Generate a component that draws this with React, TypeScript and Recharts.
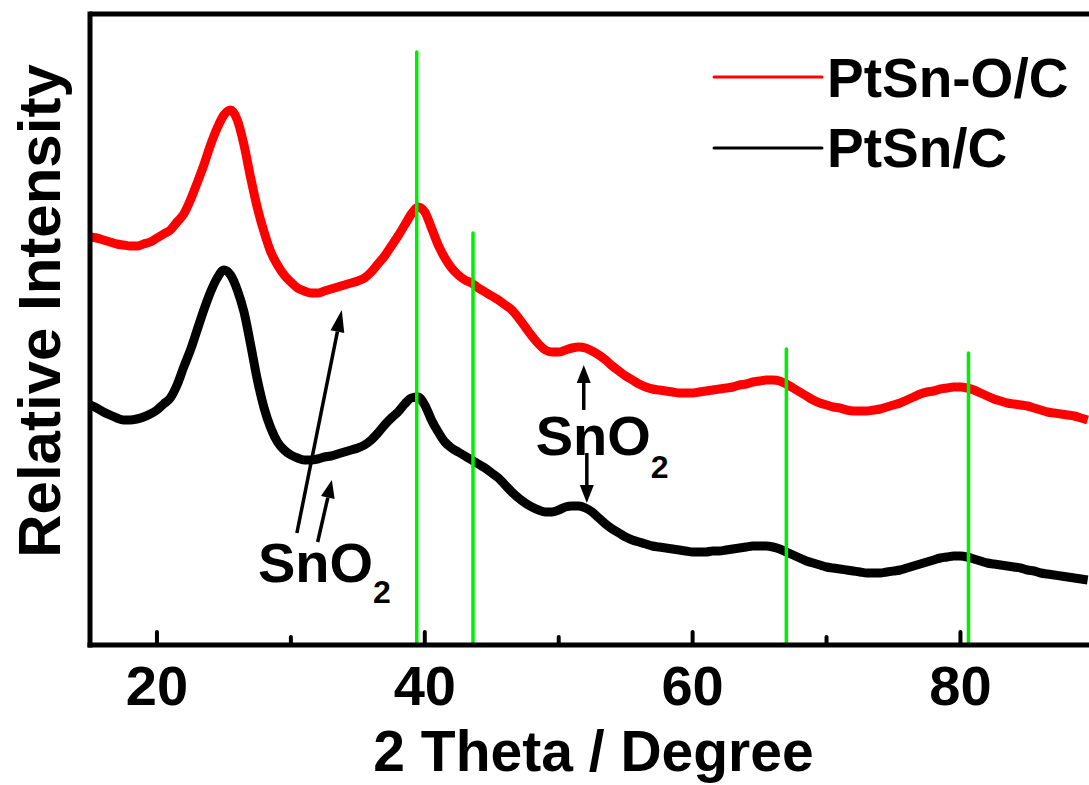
import React from 'react';
import { LineChart, Line, XAxis, YAxis, ReferenceLine, ReferenceDot, Legend } from 'recharts';

// 2 theta grid: 15 .. 89.5 deg, every 0.5 deg
const angleStart = 15;
const angleStep = 0.5;

// PtSn-O/C (red), relative intensity (a.u.)
const ptSnOC = [
  408, 407, 405, 403, 401, 400, 399, 399, 401, 403,
  407, 411, 415, 423, 431, 445, 462, 480, 500, 517,
  530, 535, 525, 500, 467, 437, 413, 393, 380, 370,
  363, 357, 354, 352, 352, 354, 356, 358, 360, 362,
  364, 367, 373, 381, 389, 399, 409, 420, 431, 438,
  433, 417, 400, 387, 377, 370, 365, 362, 357, 353,
  349, 345, 340, 335, 327, 318, 309, 301, 295, 293,
  293, 295, 297, 298, 297, 294, 290, 285, 279, 274,
  269, 265, 261, 258, 256, 255, 254, 253, 252, 252,
  252, 253, 254, 255, 256, 257, 258, 260, 261, 263,
  264, 265, 265, 264, 261, 257, 253, 249, 245, 242,
  240, 238, 237, 235, 234, 234, 234, 235, 236, 238,
  240, 242, 245, 248, 251, 253, 254, 256, 257, 258,
  258, 257, 255, 252, 249, 246, 244, 242, 241, 240,
  239, 237, 235, 233, 232, 231, 230, 229, 227, 225,
];

// PtSn/C (black)
const ptSnC = [
  240, 237, 233, 230, 227, 225, 225, 226, 228, 231,
  235, 241, 247, 260, 278, 295, 315, 335, 353, 367,
  375, 370, 355, 333, 300, 265, 237, 217, 203, 195,
  190, 187, 185, 185, 186, 188, 189, 191, 193, 195,
  197, 200, 205, 212, 220, 227, 233, 241, 247, 248,
  240, 225, 213, 203, 197, 193, 189, 185, 181, 177,
  172, 167, 160, 153, 147, 142, 138, 135, 133, 133,
  135, 138, 139, 139, 137, 133, 127, 121, 116, 112,
  108, 105, 103, 101, 99, 98, 97, 96, 95, 94,
  93, 93, 93, 94, 94, 95, 96, 97, 98, 99,
  99, 99, 98, 96, 93, 90, 87, 84, 82, 80,
  78, 77, 76, 75, 74, 73, 72, 72, 72, 73,
  74, 75, 77, 79, 81, 83, 85, 87, 88, 89,
  89, 88, 86, 84, 82, 81, 80, 79, 78, 77,
  75, 74, 72, 71, 70, 69, 68, 67, 66, 65,
];

const seriesNames = ['PtSn-O/C', 'PtSn/C'];
const seriesColors = ['#ff0000', '#000000'];

// reference (Pt) peak positions and the heights of the green markers
const refPeaks = [39.4, 43.6, 67.0, 80.6];
const refPeakTops = [593, 412, 296, 292];

const xTicks = [20, 30, 40, 50, 60, 70, 80];
const xTickLabels = [20, 40, 60, 80];

// SnO2 annotations: arrows (tail -> tip) and label anchors
const snO2Arrows = [
  { from: [30.45, 112], to: [33.8, 335] },
  { from: [32.0, 103], to: [33.06, 165] },
  { from: [51.87, 235], to: [51.87, 280] },
  { from: [52.1, 192], to: [52.1, 142] },
];
const snO2Labels = [
  { x: 27.54, y: 63, sub: 21 },
  { x: 48.28, y: 190, sub: 23 },
];

const data = ptSnOC.map((v, i) => ({
  angle: angleStart + i * angleStep,
  oc: v,
  c: ptSnC[i],
}));

const FONT = "'Liberation Sans', Arial, Helvetica, sans-serif";

const XTick = (props: any) => {
  const { x, y, payload } = props;
  const major = xTickLabels.includes(payload.value);
  return (
    <g>
      <line x1={x} x2={x} y1={y - 2} y2={y - (major ? 13 : 8)} stroke="#000" strokeWidth={4} strokeLinecap="round" />
      {major && (
        <text x={x} y={y + 60} textAnchor="middle" fontFamily={FONT} fontWeight="bold" fontSize={56} fill="#000">
          {payload.value}
        </text>
      )}
    </g>
  );
};

const XLabel = (props: any) => {
  const vb = props.viewBox;
  return (
    <text x={vb.x + vb.width / 2 + 4} y={vb.y + 126} textAnchor="middle" fontFamily={FONT} fontWeight="bold" fontSize={57} fill="#000">
      2 Theta / Degree
    </text>
  );
};

const YLabel = (props: any) => {
  const vb = props.viewBox;
  const cx = vb.x + 60;
  const cy = vb.y + 297;
  return (
    <text x={cx} y={cy} transform={`rotate(-90 ${cx} ${cy})`} textAnchor="middle" fontFamily={FONT} fontWeight="bold" fontSize={60} fill="#000">
      Relative Intensity
    </text>
  );
};

const ArrowShape = (props: any) => {
  const { x1, y1, x2, y2 } = props;
  const dx = x2 - x1;
  const dy = y2 - y1;
  const len = Math.hypot(dx, dy) || 1;
  const ux = dx / len;
  const uy = dy / len;
  const head = len > 100 ? 22 : 18;
  const half = 7;
  const bx = x2 - ux * head;
  const by = y2 - uy * head;
  const pts = `${x2},${y2} ${bx - uy * half},${by + ux * half} ${bx + uy * half},${by - ux * half}`;
  return (
    <g>
      <line x1={x1} y1={y1} x2={bx} y2={by} stroke="#000" strokeWidth={3.5} />
      <polygon points={pts} fill="#000" />
    </g>
  );
};

const snO2Shape = (sub: number) => (props: any) => (
  <text x={props.cx} y={props.cy} fontFamily={FONT} fontWeight="bold" fontSize={56} fill="#000">
    SnO
    <tspan dy={sub} fontSize={32}>2</tspan>
  </text>
);

const LegendBox = () => (
  <svg width={389} height={150}>
    {seriesNames.map((name, i) => (
      <g key={name}>
        <line x1={14} x2={122} y1={37 + i * 71} y2={37 + i * 71} stroke={seriesColors[i]} strokeWidth={3} strokeLinecap="round" />
        <text x={127} y={57 + i * 70} fontFamily={FONT} fontWeight="bold" fontSize={55} fill="#000">
          {name}
        </text>
      </g>
    ))}
  </svg>
);

export default function App() {
  return (
    <div style={{ position: 'absolute', left: 0, top: 0, width: 1089, height: 785, background: '#fff' }}>
      <LineChart width={1089} height={785} data={data} margin={{ top: 14, right: 0, left: 0, bottom: 0 }}>
        <XAxis
          dataKey="angle"
          type="number"
          domain={[15, 89.6]}
          ticks={xTicks}
          height={140}
          tickSize={0}
          tickMargin={0}
          tickLine={false}
          tick={<XTick />}
          axisLine={{ stroke: '#000', strokeWidth: 5, strokeLinecap: 'square' }}
          label={XLabel}
          allowDataOverflow
        />
        <YAxis
          type="number"
          domain={[0, 631]}
          width={90}
          tick={false}
          tickLine={false}
          axisLine={{ stroke: '#000', strokeWidth: 5, strokeLinecap: 'square' }}
          label={YLabel}
          allowDataOverflow
        />
        <Legend
          layout="vertical"
          align="center"
          verticalAlign="middle"
          content={<LegendBox />}
          wrapperStyle={{ left: 700, top: 40, width: 389, height: 150 }}
        />
        <Line type="monotone" dataKey="oc" name={seriesNames[0]} stroke={seriesColors[0]} strokeWidth={9} dot={false} isAnimationActive={false} />
        <Line type="monotone" dataKey="c" name={seriesNames[1]} stroke={seriesColors[1]} strokeWidth={9} dot={false} isAnimationActive={false} />
        <ReferenceLine y={631} stroke="#000" strokeWidth={5} />
        {refPeaks.map((p, i) => (
          <ReferenceLine
            key={p}
            segment={[{ x: p, y: 0 }, { x: p, y: refPeakTops[i] }]}
            stroke="#00ee00"
            strokeWidth={3.5}
            strokeLinecap="round"
          />
        ))}
        {snO2Arrows.map((a, i) => (
          <ReferenceLine
            key={`arrow-${i}`}
            segment={[{ x: a.from[0], y: a.from[1] }, { x: a.to[0], y: a.to[1] }]}
            shape={ArrowShape}
          />
        ))}
        {snO2Labels.map((l, i) => (
          <ReferenceDot key={`lab-${i}`} x={l.x} y={l.y} r={0} shape={snO2Shape(l.sub)} />
        ))}
      </LineChart>
    </div>
  );
}
